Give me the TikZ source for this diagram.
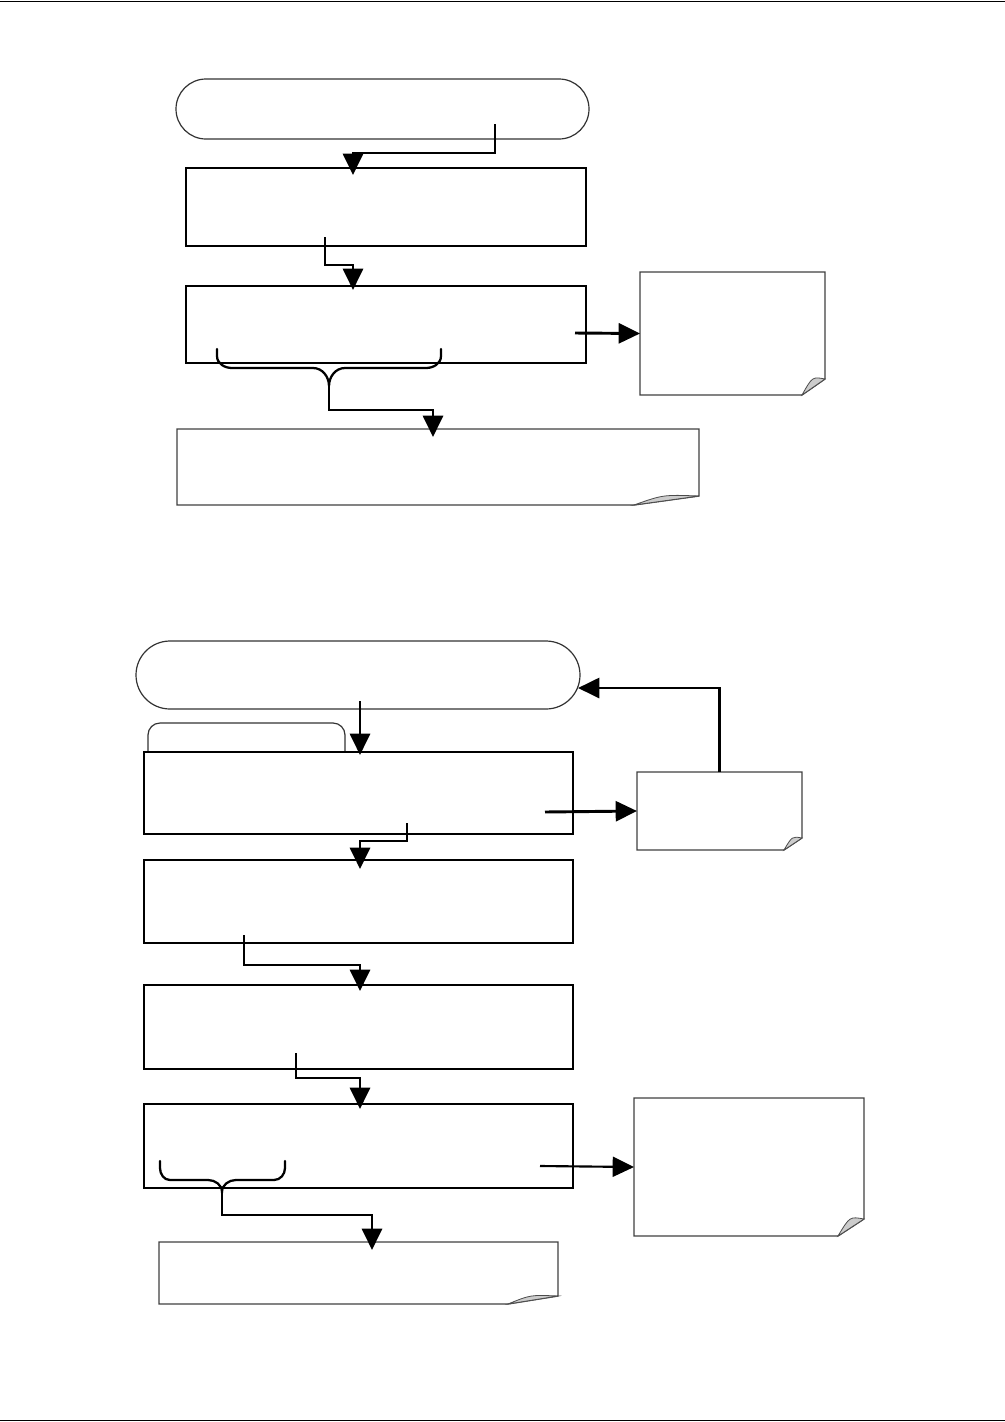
\documentclass[tikz,border=0pt]{standalone}
\usetikzlibrary{arrows.meta,calc}
\tikzset{
 boxst/.style={draw=black, line width=1.45pt, fill=white},
 stadst/.style={draw=black!80, line width=0.9pt, fill=white},
 tabst/.style={draw=black!80, line width=0.9pt, fill=white, rounded corners=9pt},
 notest/.style={draw=none, fill=white},
 notelinest/.style={draw=black!75, line width=1pt},
 foldst/.style={fill=black!20, draw=black!70, line width=0.6pt},
 arr/.style={line width=2.2pt, -{Triangle[length=16pt,width=15pt]}},
 thinarr/.style={line width=1.6pt, -{Triangle[length=16pt,width=15pt]}},
 bracest/.style={line width=1.7pt, line cap=round},
}
\newcommand\mkbox[6]{\pgfmathsetmacro\bw{(#4-#2)*0.75}\pgfmathsetmacro\bh{(#5-#3)*0.75}\node[#6, anchor=north west, minimum width=\bw pt, minimum height=\bh pt, inner sep=0pt, outer sep=0pt] (#1) at (#2,#3) {};}
\newcommand\mkfold[3]{%
 \draw[notelinest] (#1.south west) -- (#1.north west) -- (#1.north east) -- ($(#1.south east)+(0,-#3)$) -- ($(#1.south east)+(-#2,0)$) -- cycle;
 \filldraw[foldst] ($(#1.south east)+(-#2,0)$) .. controls ($(#1.south east)+(-0.55*#2,-1.15*#3)$) .. ($(#1.south east)+(0,-#3)$) -- cycle;}
\begin{document}
\begin{tikzpicture}[x=0.75pt,y=-0.75pt]
\useasboundingbox (0,0) rectangle (1005,1422);
\draw[line width=1.1pt] (0,1.5) coordinate (hl) -- (1005,1.5) coordinate (hr);
\draw[line width=1.1pt] (0,1420.5) coordinate (fl) -- (1005,1420.5) coordinate (fr);

% ---------- upper chart ----------
\mkbox{S1}{176}{79}{589}{139}{stadst, rounded corners=22.5pt}
\mkbox{B1}{186}{168}{586}{246}{boxst}
\mkbox{B2}{186}{286}{586}{363}{boxst}
\mkbox{N1}{640}{272}{825}{395}{notest}
\mkfold{N1}{23}{16}
\mkbox{B3}{177}{429}{699}{505}{notest}
\mkfold{B3}{65}{9}

\coordinate (a1) at (495,124);
\draw[arr] (a1) -- (495,153) -| ($(B1.north west)+(167,7)$);
\coordinate (a2) at (325,237);
\draw[arr] (a2) -- (325,265) -| ($(B2.north west)+(167,4)$);
\coordinate (a3) at (575,333);
\draw[arr] (a3) -- (N1.west);
\draw[bracest] (217,349) -- (217,356) to[out=-90,in=180] (232,368) -- (313,368) to[out=0,in=90] (329,386) coordinate (br1)
  to[out=90,in=180] (345,368) -- (426,368) to[out=0,in=-90] (441,356) -- (441,349);
\draw[arr] (br1) -- (329,410) -| ($(B3.north west)+(256,8)$);

% ---------- lower chart ----------
\mkbox{S2}{136}{641}{580}{709}{stadst, rounded corners=25.5pt}
\mkbox{T1}{148}{723}{345}{775}{tabst}
\mkbox{B4}{144}{752}{573}{834}{boxst}
\mkbox{N2}{637}{772}{802}{850}{notest}
\mkfold{N2}{18}{12}
\mkbox{B5}{144}{860}{573}{943}{boxst}
\mkbox{B6}{144}{985}{573}{1069}{boxst}
\mkbox{B7}{144}{1104}{573}{1188}{boxst}
\mkbox{N3}{634}{1098}{864}{1236}{notest}
\mkfold{N3}{26}{17}
\mkbox{B8}{159}{1242}{558}{1304}{notest}
\mkfold{B8}{50}{8}

\coordinate (a5) at (360,701);
\draw[arr] (a5) -- ($(B4.north west)+(216,3)$);
\draw[arr] (N2.north) |- (578,688);
\coordinate (a7) at (545,812);
\draw[arr] (a7) -- (N2.west);
\coordinate (a8) at (407,823);
\draw[arr] (a8) -- (407,841) -| ($(B5.north west)+(216,9)$);
\coordinate (a9) at (244,935);
\draw[arr] (a9) -- (244,965) -| ($(B6.north west)+(216,6)$);
\coordinate (a10) at (296,1053);
\draw[arr] (a10) -- (296,1078) -| ($(B7.north west)+(216,5)$);
\coordinate (a11) at (540,1166);
\draw[thinarr] (a11) -- (N3.west);
\draw[bracest] (160,1161) -- (160,1168) to[out=-90,in=180] (170,1180) -- (208,1180) to[out=0,in=90] (222,1192) coordinate (br2)
  to[out=90,in=180] (236,1180) -- (274,1180) to[out=0,in=-90] (285,1168) -- (285,1161);
\draw[arr] (br2) -- (222,1215) -| ($(B8.north west)+(213,8)$);
\end{tikzpicture}
\end{document}
